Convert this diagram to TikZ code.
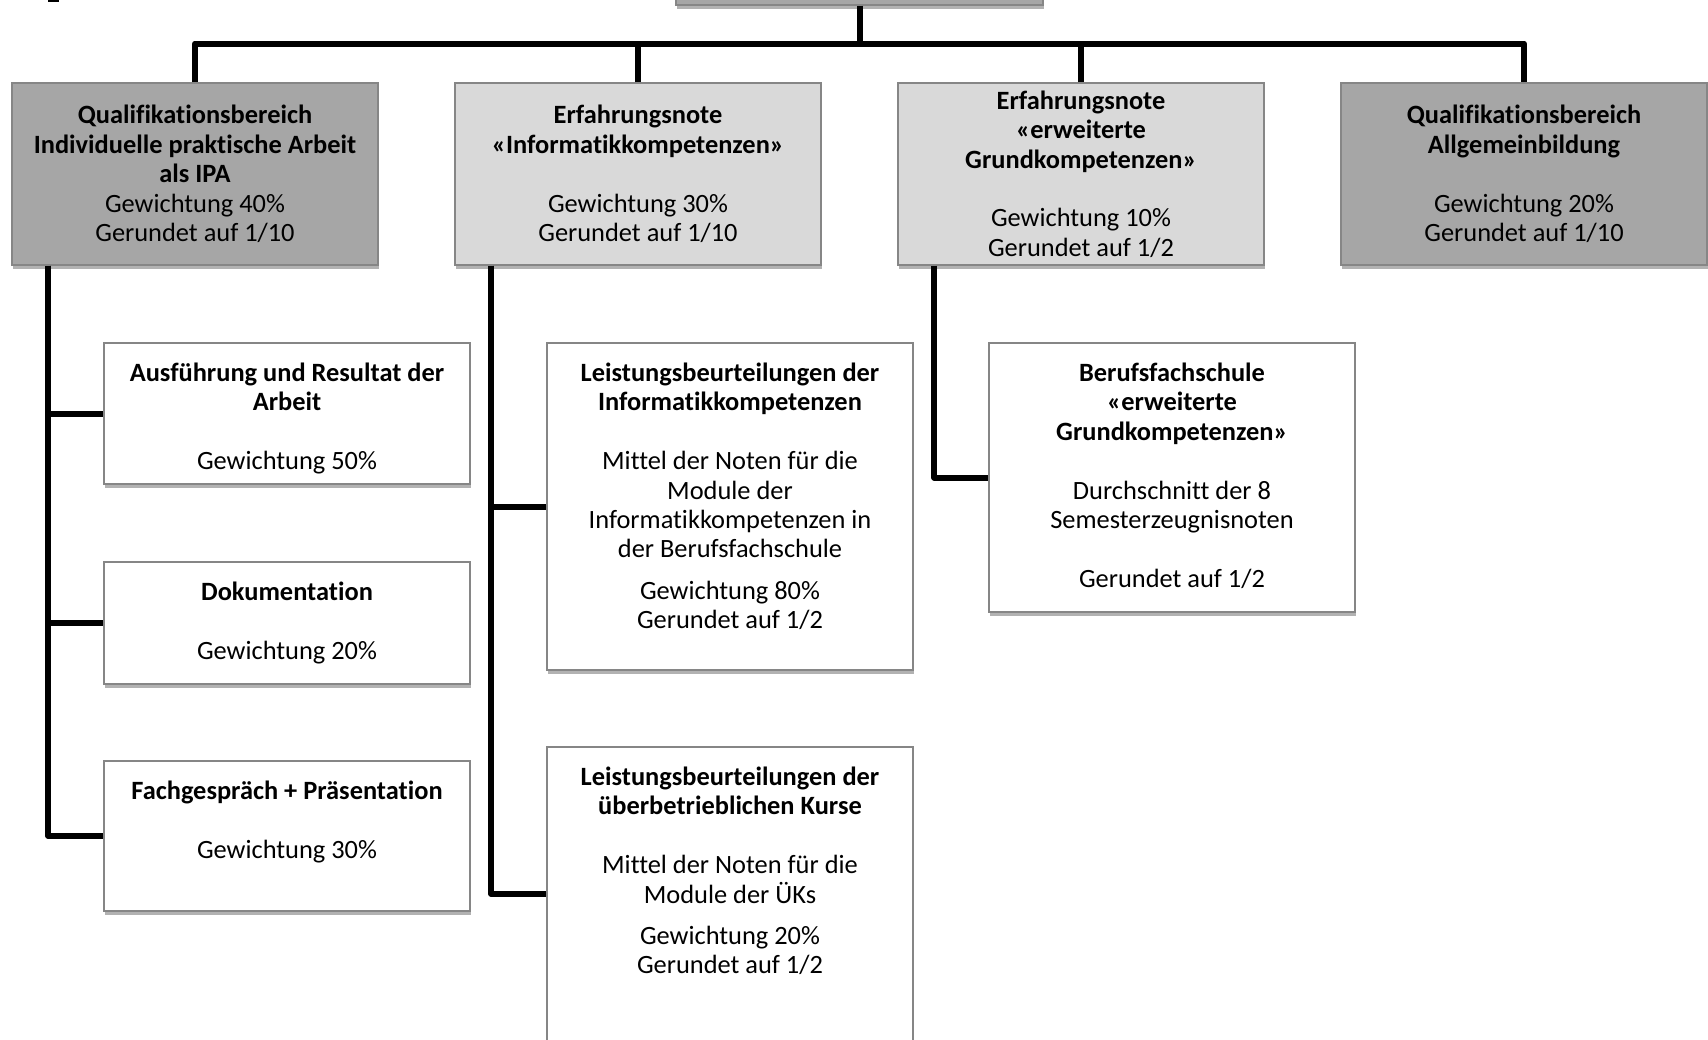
\documentclass[tikz,border=0pt]{standalone}
\usepackage{fontspec}
\setmainfont{Carlito}[Ligatures=NoCommon]
\usetikzlibrary{positioning,shadows}
\definecolor{bereichgray}{RGB}{166,166,166}
\definecolor{notegray}{RGB}{217,217,217}
\definecolor{rahmengray}{RGB}{134,134,134}
% text of the lower boxes sits at the top
\newcommand{\teiltext}[2]{\parbox[c][#1][t]{183pt}{\centering\vspace*{9pt}\strut#2}}

\begin{document}
\begin{tikzpicture}[x=0.5pt, y=-0.5pt,
  font=\fontsize{13.2}{14.7}\selectfont,
  box/.style={draw=rahmengray, line width=0.6pt, minimum width=183pt, inner sep=0pt,
    drop shadow={shadow xshift=0.6pt, shadow yshift=-2.2pt, fill=black, opacity=0.3}},
  bereich/.style={box, fill=bereichgray, align=center},
  note/.style={box, fill=notegray, align=center},
  teil/.style={box, fill=white},
  conn/.style={line width=3pt, line join=round}]
\useasboundingbox (0,0) rectangle (1708,1039);

% top row
\node[bereich, minimum width=183.5pt, minimum height=50pt] (root) at (859.5,-45) {};
\fill (48,0) rectangle (59,2);

\node[bereich, minimum height=91pt] (ipa) at (195,174) {\textbf{Qualifikationsbereich}\\\textbf{Individuelle praktische Arbeit}\\\textbf{als IPA}\\Gewichtung 40\%\\Gerundet auf 1/10};
\node[note, minimum height=91pt] (inf) at (638,174) {\textbf{Erfahrungsnote}\\\textbf{«Informatikkompetenzen»}\\[14.7pt]Gewichtung 30\%\\Gerundet auf 1/10};
\node[note, minimum height=91pt] (erfg) at (1081,174) {\textbf{Erfahrungsnote}\\\textbf{«erweiterte}\\\textbf{Grundkompetenzen»}\\[14.7pt]Gewichtung 10\%\\Gerundet auf 1/2};
\node[bereich, minimum height=91pt] (allg) at (1524,174) {\textbf{Qualifikationsbereich}\\\textbf{Allgemeinbildung}\\[14.7pt]Gewichtung 20\%\\Gerundet auf 1/10};

% IPA
\node[teil] (ausf) at (287,413.5) {\teiltext{70.5pt}{\textbf{Ausführung und Resultat der}\\\textbf{Arbeit}\\[14.7pt]Gewichtung 50\%}};
\node[teil] (doku) at (287,623) {\teiltext{61pt}{\textbf{Dokumentation}\\[14.7pt]Gewichtung 20\%}};
\node[teil] (fach) at (287,836) {\teiltext{75pt}{\textbf{Fachgespräch + Präsentation}\\[14.7pt]Gewichtung 30\%}};

% Informatikkompetenzen
\node[teil] (lbi) at (730,506.5) {\teiltext{163.5pt}{\textbf{Leistungsbeurteilungen der}\\\textbf{Informatikkompetenzen}\\[14.7pt]Mittel der Noten für die\\Module der\\Informatikkompetenzen in\\der Berufsfachschule\\[6pt]Gewichtung 80\%\\Gerundet auf 1/2}};
\node[teil] (lbu) at (730,894) {\teiltext{147pt}{\textbf{Leistungsbeurteilungen der}\\\textbf{überbetrieblichen Kurse}\\[14.7pt]Mittel der Noten für die\\Module der ÜKs\\[6pt]Gewichtung 20\%\\Gerundet auf 1/2}};

% erweiterte Grundkompetenzen
\node[teil] (bfs) at (1172,477.5) {\teiltext{134.5pt}{\textbf{Berufsfachschule}\\\textbf{«erweiterte}\\\textbf{Grundkompetenzen»}\\[14.7pt]Durchschnitt der 8\\Semesterzeugnisnoten\\[14.7pt]Gerundet auf 1/2}};

% connectors
\coordinate (bus) at (859.5,43.5);
\draw[conn] (root.south) -- (bus);
\draw[conn] (ipa.north) |- (bus) -| (allg.north);
\draw[conn] (inf.north) -- (inf.north |- bus);
\draw[conn] (erfg.north) -- (erfg.north |- bus);

\draw[conn] ([xshift=18.5pt]ipa.south west) |- (ausf.west);
\draw[conn] ([xshift=18.5pt]ipa.south west) |- (doku.west);
\draw[conn] ([xshift=18.5pt]ipa.south west) |- (fach.west);
\draw[conn] ([xshift=18.5pt]inf.south west) |- (lbi.west);
\draw[conn] ([xshift=18.5pt]inf.south west) |- (lbu.west);
\draw[conn] ([xshift=18.5pt]erfg.south west) |- (bfs.west);
\end{tikzpicture}
\end{document}
